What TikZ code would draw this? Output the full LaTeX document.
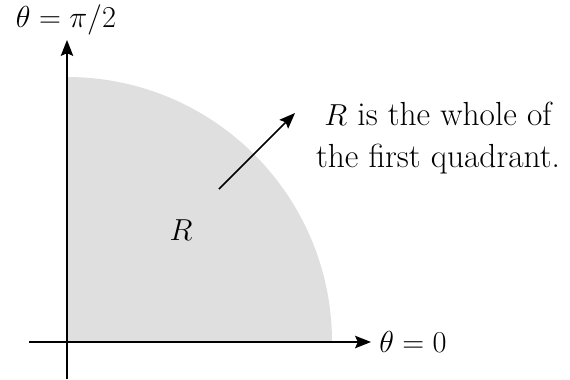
\documentclass[tikz,border=0pt]{standalone}
\usetikzlibrary{arrows.meta}
\begin{document}
\begin{tikzpicture}[x=0.02cm,y=-0.02cm,
  lbl/.style={inner sep=0pt,font=\fontsize{19}{24}\selectfont},
  ax/.style={line width=1.3pt,-{Stealth[length=9pt,width=7pt,inset=1.5pt]}},
  ptr/.style={line width=0.9pt,-{Stealth[length=9pt,width=7pt,inset=1.5pt]}}]
\useasboundingbox (0,0) rectangle (570,379);
\fill[gray!25] (67,342) -- (332,342) arc[start angle=0,end angle=-90,radius=265] -- cycle;
\coordinate (o) at (67,342);
\coordinate (xs) at (29,342);
\coordinate (xe) at (371,342);
\coordinate (ys) at (67,379);
\coordinate (ye) at (67,40);
\draw[ax] (xs) -- (xe);
\draw[ax] (ys) -- (ye);
\node[lbl,anchor=west] (t0) at (379,342) {$\theta=0$};
\node[lbl] (t90) at (66,20) {$\theta=\pi/2$};
\node[lbl] (r) at (181,230) {$R$};
\node[lbl,align=center] (txt) at (438,138) {$R$ is the whole of\\the first quadrant.};
\coordinate (a1) at (219,189);
\coordinate (a2) at (295,113);
\draw[ptr] (a1) -- (a2);
\end{tikzpicture}
\end{document}
